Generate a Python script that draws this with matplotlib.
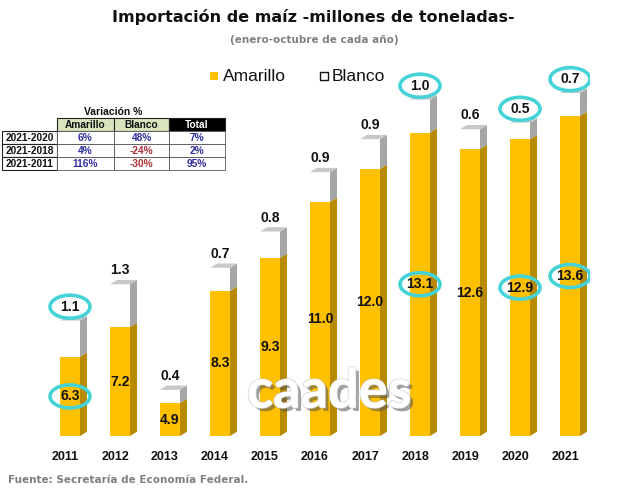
import matplotlib
matplotlib.use("Agg")
import matplotlib.pyplot as plt
from matplotlib.patches import Polygon, Rectangle, Ellipse
import matplotlib.patheffects as pe
import numpy as np

years = ["2011", "2012", "2013", "2014", "2015", "2016", "2017", "2018", "2019", "2020", "2021"]
amarillo = [6.3, 7.2, 4.9, 8.3, 9.3, 11.0, 12.0, 13.1, 12.6, 12.9, 13.6]
blanco = [1.1, 1.3, 0.4, 0.7, 0.8, 0.9, 0.9, 1.0, 0.6, 0.5, 0.7]
circled = ["2011", "2018", "2020", "2021"]

table_periods = ["2021-2020", "2021-2018", "2021-2011"]
table_cols = ["Amarillo", "Blanco", "Total"]
var_amarillo = ["6%", "4%", "116%"]
var_blanco = ["48%", "-24%", "-30%"]
var_total = ["7%", "2%", "95%"]

W, H = 628, 492
fig = plt.figure(figsize=(W / 100, H / 100), dpi=100)
fig.patch.set_facecolor("white")

ax = fig.add_axes([40 / W, (H - 436) / H, 550 / W, 376 / H])
ax.set_xlim(-0.5, len(years) - 0.5)
ax.set_ylim(3.9, 15.3)
for s in ax.spines.values():
    s.set_visible(False)
ax.set_yticks([])
ax.set_xticks([])

x = np.arange(len(years))
f0, f1 = -0.10, 0.30   # front face
dx, dy = 0.14, 0.13    # depth
base = 3.9
yel = "#FFC000"
yel_side = "#B88A00"
gray_side = "#A6A6A6"
gray_top = "#C8C8C8"

tot = [a + b for a, b in zip(amarillo, blanco)]
ax.bar(x + (f0 + f1) / 2, amarillo, width=f1 - f0, bottom=0, color=yel, zorder=2)
ax.bar(x + (f0 + f1) / 2, blanco, width=f1 - f0, bottom=amarillo, color="white", zorder=2)
for i in range(len(years)):
    a, t = amarillo[i], tot[i]
    xr = x[i] + f1
    xl = x[i] + f0
    ax.add_patch(Polygon([[xr, base], [xr + dx, base + dy], [xr + dx, a + dy], [xr, a]],
                         closed=True, fc=yel_side, ec="none", zorder=2))
    ax.add_patch(Polygon([[xr, a], [xr + dx, a + dy], [xr + dx, t + dy], [xr, t]],
                         closed=True, fc=gray_side, ec="none", zorder=2))
    ax.add_patch(Polygon([[xl, t], [xl + dx, t + dy], [xr + dx, t + dy], [xr, t]],
                         closed=True, fc=gray_top, ec="none", zorder=2))

ring = "#45D3D8"
ew, eh = 40 / 50, 23 / 33   # ellipse size in data units
for i, y in enumerate(years):
    cx = x[i] + (f0 + f1) / 2
    circ = y in circled
    ya = (amarillo[i] + base) / 2
    yb = tot[i] + 0.42
    if circ:
        ax.add_patch(Ellipse((cx, ya), ew, eh, fc="none", ec=ring, lw=2.6, zorder=4))
        ax.add_patch(Ellipse((cx, yb), ew, eh, fc="white", ec=ring, lw=2.6, zorder=4))
    ax.text(cx, ya, f"{amarillo[i]:.1f}", ha="center", va="center",
            fontsize=10, fontweight="bold", family="Liberation Sans", color="#111111", zorder=5)
    ax.text(cx, yb, f"{blanco[i]:.1f}", ha="center", va="center",
            fontsize=10, fontweight="bold", family="Liberation Sans", color="#111111", zorder=5)
    ax.text(x[i], base - 0.65, y, ha="center", va="center", fontsize=9,
            fontweight="bold", family="Liberation Sans", color="#111111")

# Logo
fig.text(329 / W, 1 - 392 / H, "caades", ha="center", va="center", fontsize=39,
         family="Lato", fontweight="bold", color="white",
         path_effects=[pe.withSimplePatchShadow(offset=(2.5, -2.5), shadow_rgbFace="#555555", alpha=0.55),
                       pe.withStroke(linewidth=1.2, foreground="#CFCFCF"),
                       pe.Normal()])

# Titles
fig.text(313 / W, 1 - 17 / H, "Importación de maíz -millones de toneladas-", ha="center",
         va="center", fontsize=11.5, fontweight="bold", family="DejaVu Sans", color="#111111")
fig.text(314 / W, 1 - 40 / H, "(enero-octubre de cada año)", ha="center", va="center",
         fontsize=7.5, fontweight="bold", family="DejaVu Sans", color="#808080")

# Legend
fig.patches.append(Rectangle((210 / W, 1 - 80 / H), 8 / W, 8 / H, transform=fig.transFigure,
                             fc=yel, ec="none"))
fig.text(223 / W, 1 - 76 / H, "Amarillo", ha="left", va="center", fontsize=12.5,
         family="Liberation Sans", color="#111111")
fig.patches.append(Rectangle((320 / W, 1 - 80 / H), 8 / W, 8 / H, transform=fig.transFigure,
                             fc="white", ec="#111111", lw=1))
fig.text(332 / W, 1 - 76 / H, "Blanco", ha="left", va="center", fontsize=12.5,
         family="Liberation Sans", color="#111111")

# Source
fig.text(8 / W, 1 - 480 / H, "Fuente: Secretaría de Economía Federal.", ha="left", va="center",
         fontsize=7.5, fontweight="bold", family="DejaVu Sans", color="#808080")

# Table
def px_rect(x0, y0, x1, y1, fc, ec="#222222", lw=0.8):
    fig.patches.append(Rectangle((x0 / W, 1 - y1 / H), (x1 - x0) / W, (y1 - y0) / H,
                                 transform=fig.transFigure, fc=fc, ec=ec, lw=lw))

def px_text(xc, yc, s, color="#111111", size=7.3):
    fig.text(xc / W, 1 - yc / H, s, ha="center", va="center", fontsize=size,
             fontweight="bold", family="Liberation Sans", color=color)

colx = [2, 57, 114, 169, 225]
rowy = [118, 131, 144, 157, 170]
px_text(113, 112, "Variación %", size=7.5)
hdr_fc = ["#D7E4BD", "#D7E4BD", "#000000"]
hdr_tc = ["#111111", "#111111", "white"]
for j, name in enumerate(table_cols):
    px_rect(colx[j + 1], rowy[0], colx[j + 2], rowy[1], hdr_fc[j])
    px_text((colx[j + 1] + colx[j + 2]) / 2, (rowy[0] + rowy[1]) / 2 + 0.5, name, color=hdr_tc[j])
blue = "#2E2E9E"
red = "#B0303A"
cols_vals = [var_amarillo, var_blanco, var_total]
for r, per in enumerate(table_periods):
    y0, y1 = rowy[r + 1], rowy[r + 2]
    px_rect(colx[0], y0, colx[1], y1, "white")
    px_text((colx[0] + colx[1]) / 2, (y0 + y1) / 2 + 0.5, per)
    for j in range(3):
        px_rect(colx[j + 1], y0, colx[j + 2], y1, "white", ec="#555555", lw=0.6)
        v = cols_vals[j][r]
        px_text((colx[j + 1] + colx[j + 2]) / 2, (y0 + y1) / 2 + 0.5, v,
                color=red if v.startswith("-") else blue)

fig.savefig("out.png", dpi=100, facecolor="white")
